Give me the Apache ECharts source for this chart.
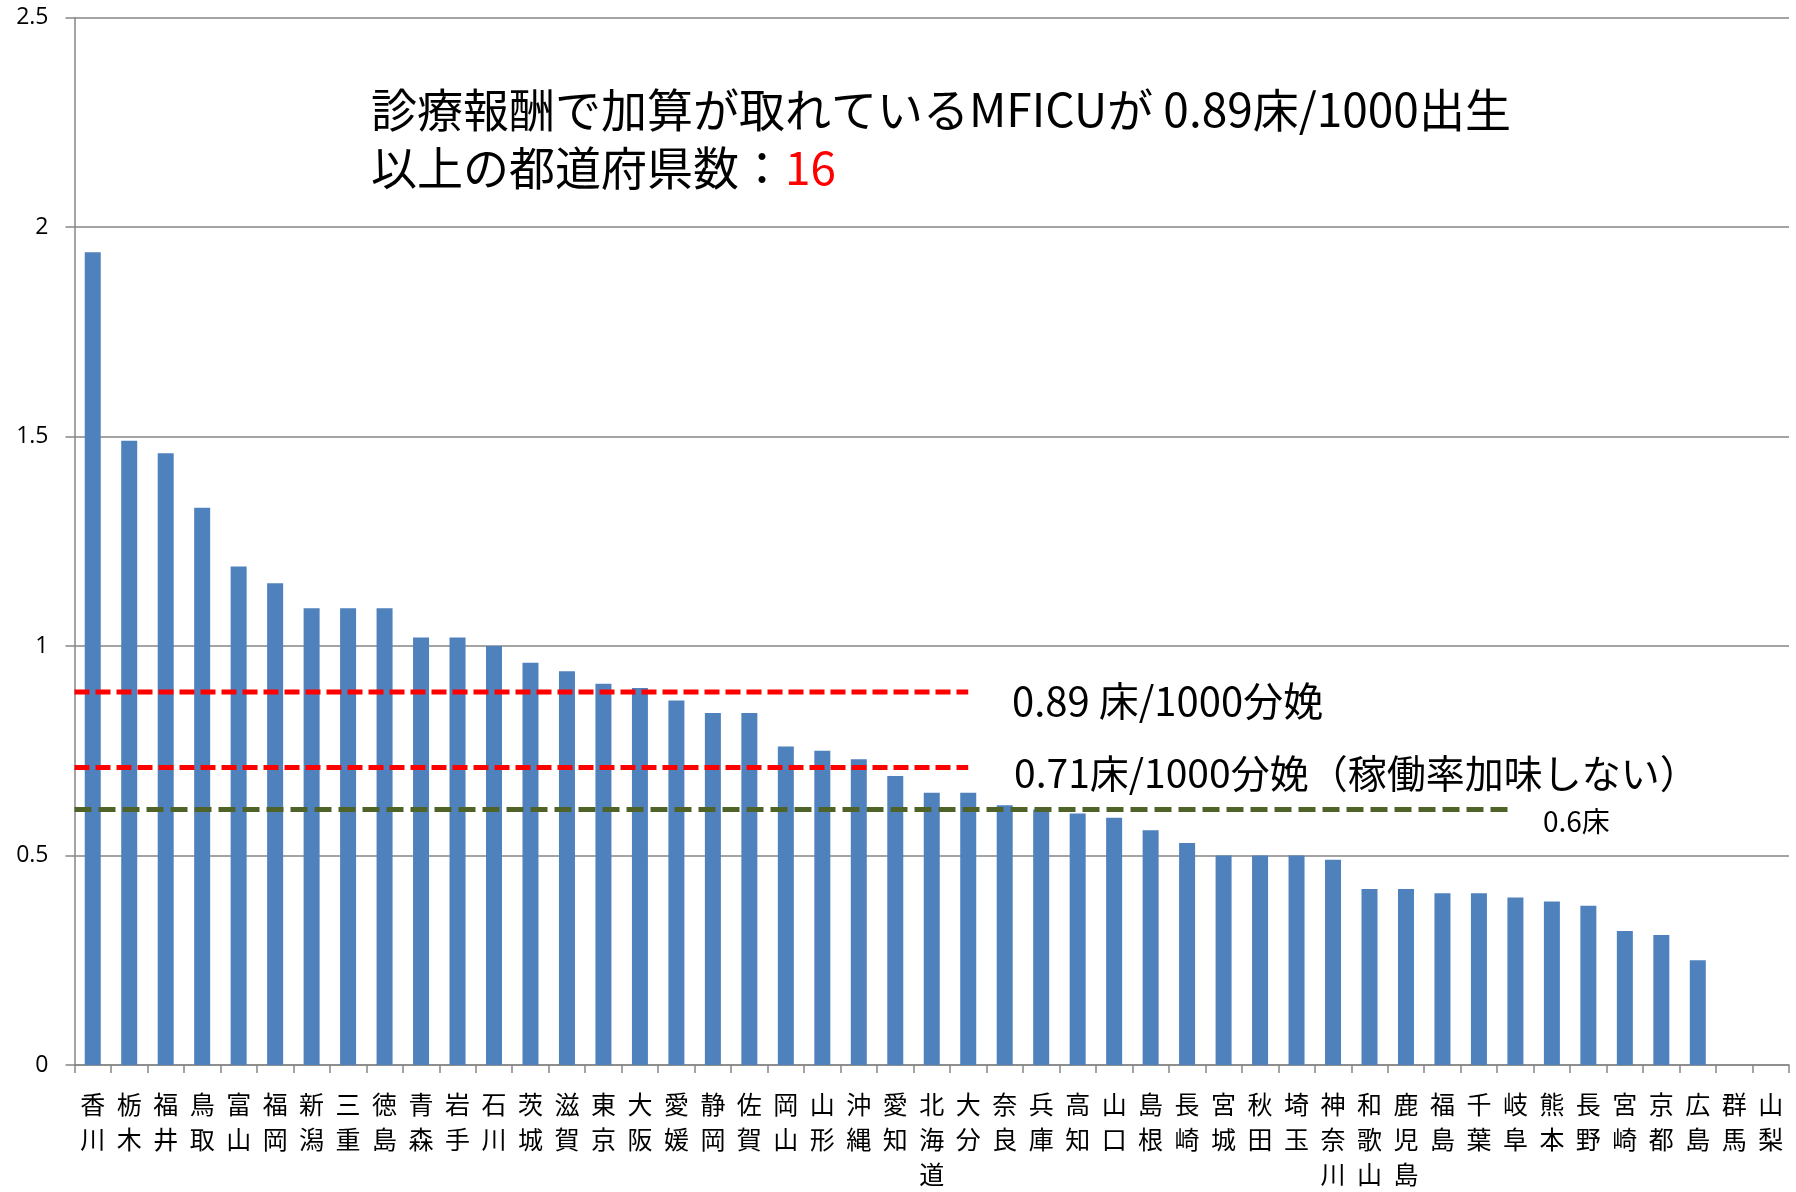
<!DOCTYPE html>
<html><head><meta charset="utf-8">
<script src="https://cdn.jsdelivr.net/npm/echarts@6/dist/echarts.min.js"></script>
<style>html,body{margin:0;padding:0;background:#fff}#c{width:1796px;height:1192px}</style>
</head><body><div id="c"></div>
<script>
const categories = ['香川','栃木','福井','鳥取','富山','福岡','新潟','三重','徳島','青森','岩手','石川','茨城','滋賀','東京','大阪','愛媛','静岡','佐賀','岡山','山形','沖縄','愛知','北海道','大分','奈良','兵庫','高知','山口','島根','長崎','宮城','秋田','埼玉','神奈川','和歌山','鹿児島','福島','千葉','岐阜','熊本','長野','宮崎','京都','広島','群馬','山梨'];
const values = [1.94,1.49,1.46,1.33,1.19,1.15,1.09,1.09,1.09,1.02,1.02,1.00,0.96,0.94,0.91,0.90,0.87,0.84,0.84,0.76,0.75,0.73,0.69,0.65,0.65,0.62,0.61,0.60,0.59,0.56,0.53,0.50,0.50,0.50,0.49,0.42,0.42,0.41,0.41,0.40,0.39,0.38,0.32,0.31,0.25,0,0];
const yTicks = [0, 0.5, 1, 1.5, 2, 2.5];
// reference lines: [end position in category units, value]
const line089 = [[0, 0.89], [24.5, 0.89]];
const line071 = [[0, 0.71], [24.5, 0.71]];
const line060 = [[0, 0.61], [39.4, 0.61]];
const titleLine1 = '診療報酬で加算が取れているMFICUが 0.89床/1000出生';
const titleLine2 = '以上の都道府県数：';
const titleCount = '16';
const label089 = '0.89 床/1000分娩';
const label071 = '0.71床/1000分娩（稼働率加味しない）';
const label060 = '0.6床';

const chart = echarts.init(document.getElementById('c'));
const cjk = '"Noto Sans CJK JP", "Noto Sans", sans-serif';
chart.setOption({
  animation: false,
  backgroundColor: '#fff',
  grid: { left: 74.5, right: 7, top: 17.5, bottom: 117, containLabel: false },
  title: {
    left: 366, top: 76,
    text: titleLine1 + '\n' + titleLine2 + '{r|' + titleCount + '}',
    textStyle: { fontFamily: cjk, fontSize: 46, fontWeight: 'normal', color: '#000', lineHeight: 58,
      rich: { r: { fontFamily: cjk, fontSize: 46, color: '#ff0000', lineHeight: 58 } } }
  },
  xAxis: [{
    type: 'category', data: categories,
    axisLine: { lineStyle: { color: '#868686', width: 1.5 } },
    axisTick: { show: true, length: 8, lineStyle: { color: '#868686', width: 1.5 }, interval: 0 },
    axisLabel: { interval: 0, color: '#000', fontFamily: cjk, fontSize: 25, lineHeight: 35, margin: 22,
      formatter: v => v.split('').join('\n') }
  }, {
    type: 'value', min: 0, max: categories.length, show: false
  }],
  yAxis: {
    type: 'value', min: 0, max: 2.5, interval: 0.5,
    axisLine: { show: true, lineStyle: { color: '#868686', width: 1.5 } },
    axisTick: { show: true, length: 9, lineStyle: { color: '#868686', width: 1.5 } },
    splitLine: { show: true, lineStyle: { color: '#868686', width: 1.5 } },
    axisLabel: { color: '#000', fontFamily: '"Open Sans", "Noto Sans", sans-serif', fontSize: 23, margin: 26,
      formatter: v => yTicks.includes(v) ? String(v) : '' }
  },
  series: [{
    type: 'bar', data: values, barWidth: 16,
    itemStyle: { color: '#4f81bd' }
  }, {
    type: 'line', xAxisIndex: 1, data: line089, symbol: 'none', z: 5,
    lineStyle: { color: '#ff0000', width: 5, type: [15, 6] }
  }, {
    type: 'line', xAxisIndex: 1, data: line071, symbol: 'none', z: 5,
    lineStyle: { color: '#ff0000', width: 5, type: [15, 6] }
  }, {
    type: 'line', xAxisIndex: 1, data: line060, symbol: 'none', z: 5,
    lineStyle: { color: '#4f6228', width: 5, type: [17, 7] }
  }],
  graphic: [
    { type: 'text', left: 1012, top: 681, style: { text: label089, fontFamily: cjk, fontSize: 40, fill: '#000' } },
    { type: 'text', left: 1014, top: 754, style: { text: label071, fontFamily: cjk, fontSize: 39, fill: '#000' } },
    { type: 'text', left: 1543, top: 807, style: { text: label060, fontFamily: cjk, fontSize: 28, fill: '#000' } }
  ]
});
</script></body></html>
